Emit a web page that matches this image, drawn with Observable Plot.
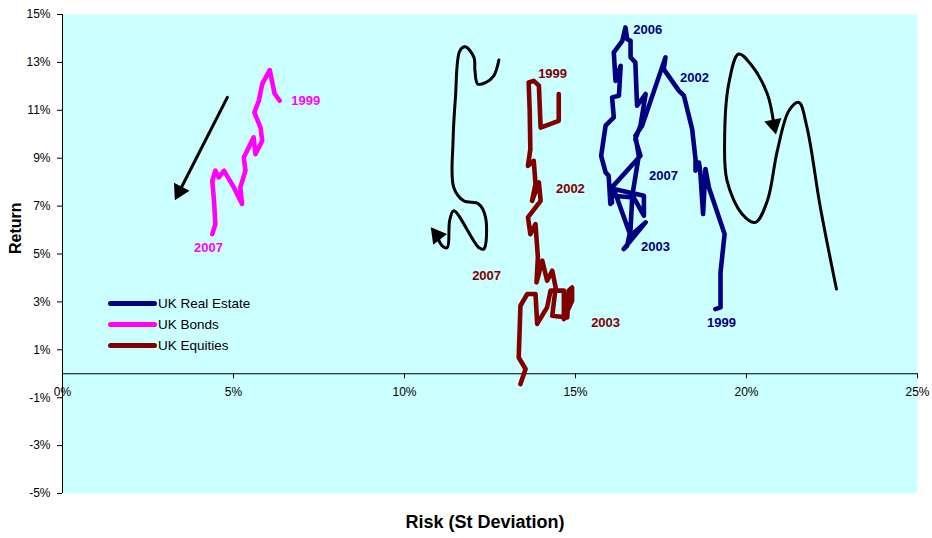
<!DOCTYPE html>
<html><head><meta charset="utf-8">
<script src="https://cdn.jsdelivr.net/npm/d3@7"></script>
<script src="https://cdn.jsdelivr.net/npm/@observablehq/plot@0.6"></script>
<style>
body{margin:0;background:#fff;font-family:"Liberation Sans",Arial,sans-serif;}
#wrap{position:relative;width:932px;height:538px;overflow:hidden;}
.legend{position:absolute;left:108px;top:293px;font-size:13.5px;color:#000;}
.legend div{display:flex;align-items:center;height:21px;}
.legend span.sw{display:inline-block;width:49px;height:4.5px;border-radius:3px;margin-right:1px;}
</style></head>
<body><div id="wrap"></div>
<script>
// Axis ticks
const xTicks = [0, 5, 10, 15, 20, 25];
const yTicks = [-5, -3, -1, 1, 3, 5, 7, 9, 11, 13, 15];

// Series names & colours
const seriesNames = ["UK Real Estate", "UK Bonds", "UK Equities"];
const seriesColors = ["#000080", "#ff00ff", "#800000"];

// UK Bonds (risk %, return %)
const bondsRisk   = [6.35, 6.20, 6.06, 5.84, 5.74, 5.61, 5.79, 5.84, 5.64, 5.59, 5.30, 5.35, 5.20, 5.25, 5.01, 4.72, 4.57, 4.47, 4.38, 4.43, 4.47, 4.38];
const bondsReturn = [11.40, 11.70, 12.68, 12.10, 11.40, 10.91, 10.28, 9.73, 9.17, 9.87, 9.03, 8.48, 7.78, 7.09, 7.78, 8.48, 8.20, 8.48, 8.06, 7.22, 6.25, 5.83];

// UK Equities
const equitiesRisk   = [14.51, 14.51, 13.98, 13.93, 13.78, 13.63, 13.66, 13.68, 13.61, 13.78, 13.83, 13.73, 13.93, 13.98, 13.61, 13.68, 13.83, 13.90, 13.86, 14.03, 14.17, 14.32, 14.42, 14.32, 14.76, 14.80, 14.90, 14.90, 14.66, 14.66, 14.27, 14.17, 13.88, 13.83, 13.59, 13.39, 13.34, 13.54, 13.39];
const equitiesReturn = [11.68, 10.56, 10.28, 12.03, 12.23, 12.16, 11.05, 9.38, 8.68, 8.89, 7.92, 7.22, 7.99, 7.22, 6.53, 5.83, 6.25, 4.87, 3.81, 4.72, 3.88, 4.30, 3.60, 2.42, 2.35, 3.47, 3.60, 3.05, 2.28, 3.47, 3.47, 2.77, 2.08, 3.33, 3.33, 2.84, 0.68, 0.20, -0.43];

// UK Real Estate
const realEstateRisk   = [19.09, 19.24, 19.24, 19.36, 18.90, 18.80, 18.73, 18.65, 18.61, 18.51, 18.51, 18.41, 18.17, 18.02, 17.58, 17.63, 16.95, 16.75, 16.85, 16.66, 16.61, 16.51, 16.41, 17.05, 16.61, 16.12, 17.00, 17.00, 16.70, 16.07, 16.02, 15.97, 15.88, 15.75, 15.88, 16.12, 16.07, 16.27, 16.32, 16.17, 16.12, 16.37, 16.46, 16.51, 16.61, 16.61, 16.75, 16.80, 17.05, 16.90, 16.75, 16.90, 16.02, 16.07];
const realEstateReturn = [2.70, 2.77, 4.23, 5.83, 7.78, 8.55, 6.67, 8.41, 8.82, 8.48, 8.96, 10.22, 11.61, 11.82, 12.72, 13.21, 10.36, 9.94, 9.10, 7.43, 6.04, 5.34, 5.21, 6.32, 5.76, 7.71, 7.43, 6.60, 7.36, 7.43, 7.09, 8.27, 8.41, 9.10, 10.36, 10.70, 11.54, 11.61, 12.86, 12.23, 13.42, 13.90, 14.46, 13.97, 13.90, 13.21, 13.00, 11.19, 11.68, 10.36, 9.80, 9.10, 7.71, 7.15];

// Year labels
const labelText   = ["1999", "2007", "1999", "2002", "2007", "2003", "2006", "2002", "2007", "2003", "1999"];
const labelSeries = [1, 1, 2, 2, 2, 2, 0, 0, 0, 0, 0];
const labelRisk   = [7.11, 4.27, 14.33, 14.85, 12.40, 15.88, 17.11, 18.48, 17.57, 17.34, 19.27];
const labelReturn = [11.40, 5.26, 12.53, 7.72, 4.09, 2.13, 14.36, 12.36, 8.27, 5.30, 2.13];

// Hand-drawn annotation arrows
const arrowBondsRisk   = [4.82, 3.42];
const arrowBondsReturn = [11.54, 7.62];
const arrowMidRisk   = [12.76, 12.61, 12.37, 12.14, 12.06, 12.03, 11.78, 11.62, 11.49, 11.42, 11.44, 11.73, 12.17, 12.37, 12.32, 12.17, 11.44, 11.32, 11.25, 11.10, 10.95];
const arrowMidReturn = [13.10, 12.44, 12.16, 12.10, 12.65, 13.21, 13.65, 13.49, 11.54, 9.73, 7.78, 7.22, 7.09, 6.53, 5.21, 5.27, 6.81, 6.39, 5.27, 5.34, 5.78];
const arrowRightRisk   = [22.63, 22.16, 21.77, 21.53, 21.24, 20.90, 20.61, 20.26, 19.87, 19.43, 19.36, 19.48, 19.77, 20.12, 20.61, 20.80];
const arrowRightReturn = [3.54, 6.94, 10.28, 11.33, 10.98, 9.31, 7.22, 6.32, 6.67, 8.06, 9.73, 12.10, 13.35, 12.93, 11.68, 10.40];

const pts = (xs, ys) => xs.map((x, i) => ({x, y: ys[i]}));
const bonds = pts(bondsRisk, bondsReturn);
const equities = pts(equitiesRisk, equitiesReturn);
const realEstate = pts(realEstateRisk, realEstateReturn);
const labels = labelText.map((t, i) => ({t, x: labelRisk[i], y: labelReturn[i], c: seriesColors[labelSeries[i]]}));
const aB = pts(arrowBondsRisk, arrowBondsReturn);
const aM = pts(arrowMidRisk, arrowMidReturn);
const aR = pts(arrowRightRisk, arrowRightReturn);
const heads = [
  {...aB[aB.length - 1], r: 207},
  {...aM[aM.length - 1], r: -38},
  {...aR[aR.length - 1], r: 168}
];

const lineOpts = (stroke) => ({x: "x", y: "y", stroke, strokeWidth: 4.6, strokeLinejoin: "round", strokeLinecap: "round"});
const annOpts = {x: "x", y: "y", stroke: "black", strokeWidth: 3, curve: "catmull-rom", strokeLinecap: "round"};

const chart = Plot.plot({
  width: 932, height: 538,
  marginLeft: 62, marginRight: 15, marginTop: 14, marginBottom: 45,
  style: {fontFamily: "'Liberation Sans', Arial, sans-serif", fontSize: "12px", background: "white", color: "black", overflow: "visible"},
  x: {domain: [0, 25], axis: null},
  y: {domain: [-5, 15], axis: null},
  marks: [
    Plot.frame({fill: "#ccffff", stroke: null}),
    Plot.axisY(yTicks, {tickFormat: d => d + "%", tickSize: 5, tickPadding: 7, fontSize: 12, label: null, stroke: "black", fill: "black"}),
    Plot.ruleX([0], {stroke: "black", strokeWidth: 1}),
    Plot.ruleY([0], {stroke: "black", strokeWidth: 1}),
    Plot.ruleX(xTicks, {x: d => d, y1: 0, y2: 0, insetBottom: -5, stroke: "black"}),
    Plot.text(xTicks, {x: d => d, y: 0, dy: 18, text: d => d + "%", fontSize: 12, fill: "black"}),
    Plot.text(["Return"], {frameAnchor: "left", dx: -47, rotate: -90, text: d => d, fontSize: 16, fontWeight: "bold", fill: "black"}),
    Plot.text(["Risk (St Deviation)"], {frameAnchor: "bottom", dx: -5, dy: 34, text: d => d, fontSize: 18, fontWeight: "bold", fill: "black"}),
    Plot.line(aB, {x: "x", y: "y", stroke: "black", strokeWidth: 3}),
    Plot.line(aM, annOpts),
    Plot.line(aR, annOpts),
    Plot.dot(heads, {x: "x", y: "y", symbol: "triangle", r: 6.5, fill: "black", stroke: null, rotate: "r"}),
    Plot.line(bonds, lineOpts(seriesColors[1])),
    Plot.line(equities, lineOpts(seriesColors[2])),
    Plot.line(realEstate, lineOpts(seriesColors[0])),
    Plot.text(labels, {x: "x", y: "y", text: "t", fill: "c", fontSize: 13, fontWeight: "bold"})
  ]
});

const wrap = document.getElementById("wrap");
wrap.appendChild(chart);
const legend = document.createElement("div");
legend.className = "legend";
seriesNames.forEach((n, i) => {
  const row = document.createElement("div");
  const sw = document.createElement("span");
  sw.className = "sw";
  sw.style.background = seriesColors[i];
  row.appendChild(sw);
  row.appendChild(document.createTextNode(n));
  legend.appendChild(row);
});
wrap.appendChild(legend);
</script>
</body></html>
